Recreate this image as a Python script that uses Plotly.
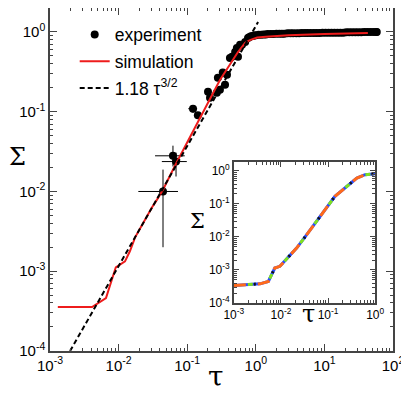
import plotly.graph_objects as go

# experimento (tau, sigma); los cinco primeros llevan barras de error
exp_tau = [0.0444, 0.062, 0.0687, 0.1216, 0.143, 0.201, 0.215, 0.27, 0.28, 0.30,
           0.33, 0.356, 0.38, 0.42, 0.45, 0.50, 0.53, 0.55, 0.59, 0.63, 0.70, 0.77,
           0.80, 0.85, 0.90, 0.95, 1.0, 1.1, 1.2, 1.3, 1.4, 1.5, 1.65, 1.8, 2.0,
           2.2, 2.4, 2.6, 2.9, 3.2, 3.5, 3.9, 4.3, 4.7, 5.2, 5.7, 6.3, 7.0, 7.7,
           8.5, 9.4, 10.4, 11.5, 12.7, 14.0, 15.5, 17.1, 18.9, 20.9, 23.1, 25.5,
           28.2, 31.1, 34.4, 38.0, 42.0, 46.4, 51.3, 56.7, 58.0]
exp_sigma = [0.010, 0.028, 0.0237, 0.109, 0.090, 0.178, 0.150, 0.173, 0.266, 0.188,
             0.31, 0.217, 0.29, 0.47, 0.49, 0.56, 0.63, 0.49, 0.69, 0.69, 0.75, 0.84,
             0.86, 0.88, 0.89, 0.90, 0.91, 0.92, 0.92, 0.93, 0.93, 0.94, 0.94, 0.94, 0.95,
             0.95, 0.95, 0.95, 0.96, 0.96, 0.96, 0.96, 0.96, 0.97, 0.97, 0.97, 0.97, 0.97, 0.97,
             0.97, 0.98, 0.98, 0.98, 0.98, 0.98, 0.98, 0.98, 0.98, 0.99, 0.99, 0.99,
             0.99, 0.99, 0.99, 1.0, 1.0, 1.0, 1.0, 1.0, 1.0]
exp_tau_err_plus = [0.029, 0.030, 0.030, 0.018, 0.012]
exp_tau_err_minus = [0.025, 0.028, 0.026, 0.018, 0.010]
exp_sigma_err_plus = [0.0088, 0.0095, 0.0070, 0.012, 0.006]
exp_sigma_err_minus = [0.0080, 0.0074, 0.0083, 0.012, 0.006]

# simulación
sim_tau = [0.0013, 0.0041, 0.00655, 0.0091, 0.0124, 0.0146, 0.0174, 0.0192, 0.0227,
           0.0306, 0.0363, 0.0444, 0.0663, 0.153, 0.30, 0.55, 0.70, 0.82, 1.05, 1.4,
           3.0, 10.0, 43.0]
sim_sigma = [3.55e-4, 3.55e-4, 4.6e-4, 1.12e-3, 1.33e-3, 1.78e-3, 2.66e-3, 3.1e-3, 4.1e-3,
             6.3e-3, 7.9e-3, 0.0105, 0.021, 0.085, 0.25, 0.56, 0.73, 0.79, 0.85, 0.87,
             0.91, 0.94, 0.97]

# ley de potencias 1.18 tau^(3/2), extremos
fit_tau = [0.00196, 1.08]
fit_sigma = [1.0e-4, 1.33]

# recuadro
ins_tau = [0.001, 0.0036, 0.0054, 0.0074, 0.0095, 0.0143, 0.0215, 0.0325, 0.0672,
           0.14, 0.408, 0.61, 1.0]
ins_sigma = [3.4e-4, 3.8e-4, 4.5e-4, 1.14e-3, 1.29e-3, 2.5e-3, 4.6e-3, 0.010, 0.042,
             0.17, 0.61, 0.77, 0.82]

main_xticks = [1e-3, 1e-2, 1e-1, 1, 10, 100]
main_xlabels = ['10<sup>-3</sup>', '10<sup>-2</sup>', '10<sup>-1</sup>',
                '10<sup>0</sup>', '10<sup>1</sup>', '10<sup>2</sup>']
main_yticks = [1e-4, 1e-3, 1e-2, 1e-1, 1]
main_ylabels = ['10<sup>-4</sup>', '10<sup>-3</sup>', '10<sup>-2</sup>',
                '10<sup>-1</sup>', '10<sup>0</sup>']
ins_xticks = [1e-3, 1e-2, 1e-1, 1]
ins_xlabels = ['10<sup>-3</sup>', '10<sup>-2</sup>', '10<sup>-1</sup>', '10<sup>0</sup>']

n_err = len(exp_tau_err_plus)
pad = [0] * (len(exp_tau) - n_err)

fig = go.Figure()

fig.add_trace(go.Scatter(
    x=exp_tau, y=exp_sigma, mode='markers', name='experiment',
    legendgroup='a',
    marker=dict(color='black', size=8),
    error_x=dict(type='data', symmetric=False, array=exp_tau_err_plus + pad,
                 arrayminus=exp_tau_err_minus + pad, width=0, thickness=1, color='black'),
    error_y=dict(type='data', symmetric=False, array=exp_sigma_err_plus + pad,
                 arrayminus=exp_sigma_err_minus + pad, width=0, thickness=1, color='black'),
))
fig.add_trace(go.Scatter(
    x=sim_tau, y=sim_sigma, mode='lines', name='simulation', legendgroup='b',
    line=dict(color='#ee1c1c', width=2)
))
fig.add_trace(go.Scatter(
    x=fit_tau, y=fit_sigma, mode='lines', name='1.18 τ<sup>3/2</sup>', legendgroup='c',
    line=dict(color='black', width=2, dash='5px,3px')
))

# recuadro: varias curvas superpuestas con guiones de colores
estilos = [
    ('#2a4dff', 'solid'),
    ('#ff6a1a', '12px,12px'),
    ('#7fe01f', '0px,14px,5px,5px'),
    ('#111111', '0px,20px,2px,2px'),
]
for color, dash in estilos:
    fig.add_trace(go.Scatter(
        x=ins_tau, y=ins_sigma, mode='lines', xaxis='x2', yaxis='y2',
        line=dict(color=color, width=3, dash=dash), showlegend=False
    ))

frame = '#444444'
ejes = dict(type='log', showline=True, linecolor=frame, linewidth=1.5, mirror='allticks',
            ticks='inside', ticklen=7, tickcolor=frame, showgrid=False, zeroline=False,
            minor=dict(ticks='inside', ticklen=3.5, dtick='D1', tickcolor=frame, showgrid=False),
            tickmode='array', automargin=False)

# la página añade 8px de margen al cuerpo: se compensa aquí
fig.update_layout(
    width=401, height=390,
    margin=dict(l=42, r=16, t=0, b=47),
    template='plotly_white',
    plot_bgcolor='white',
    font=dict(family='Arial', color='black'),
    xaxis=dict(ejes, range=[-3, 2], domain=[0, 1], tickvals=main_xticks, ticktext=main_xlabels,
               tickfont=dict(size=15)),
    yaxis=dict(ejes, range=[-4, 0.3], domain=[0, 1], tickvals=main_yticks, ticktext=main_ylabels,
               tickfont=dict(size=15)),
    xaxis2=dict(ejes, range=[-3, 0], domain=[0.536, 0.948], anchor='y2', tickvals=ins_xticks,
                ticktext=ins_xlabels, tickfont=dict(size=12), ticklen=5),
    yaxis2=dict(ejes, range=[-4, 0.27], domain=[0.14, 0.551], anchor='x2', tickvals=main_yticks,
                ticktext=main_ylabels, tickfont=dict(size=12), ticklen=5),
    legend=dict(x=0.072, y=0.975, xanchor='left', yanchor='top', bgcolor='rgba(0,0,0,0)',
                font=dict(size=17.5), tracegroupgap=1),
    showlegend=True,
    annotations=[
        dict(text='τ', x=0.484, y=-0.128, xref='paper', yref='paper', showarrow=False,
             font=dict(size=28, family='DejaVu Serif')),
        dict(text='Σ', x=-0.126, y=0.566, xref='paper', yref='paper', showarrow=False,
             font=dict(size=24, family='DejaVu Serif')),
        dict(text='τ', x=0.778, y=0.06, xref='paper', yref='paper', showarrow=False,
             font=dict(size=24, family='DejaVu Serif')),
        dict(text='Σ', x=0.429, y=0.38, xref='paper', yref='paper', showarrow=False,
             font=dict(size=21, family='DejaVu Serif')),
    ],
)

fig.write_html("out.html")
